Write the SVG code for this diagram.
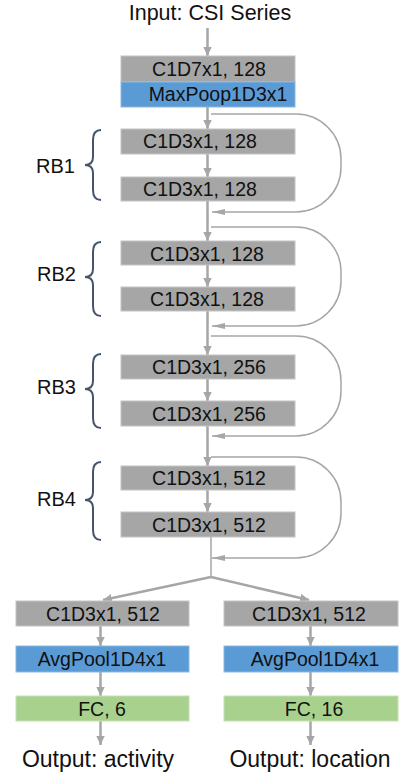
<svg xmlns="http://www.w3.org/2000/svg" width="411" height="779" viewBox="0 0 411 779">
<style>
text{font-family:"Liberation Sans",Arial,sans-serif;fill:#111;text-anchor:middle}
.t{font-size:19.5px}
.big{font-size:21.5px}
.out{font-size:23px}
.rb{font-size:20px;text-anchor:start}
.g{fill:#a6a6a6;stroke:#c4c4c4;stroke-width:1}
.b{fill:#5b9bd5;stroke:#8ab8e2;stroke-width:1}
.gr{fill:#a9d18e;stroke:#c5e0b3;stroke-width:1}
.m{stroke:#a6a6a6;stroke-width:2.5;fill:none}
.l{stroke:#a6a6a6;stroke-width:1.5;fill:none}
.br{stroke:#44546a;stroke-width:2;fill:none}
</style>
<defs>
<marker id="ah" markerUnits="userSpaceOnUse" markerWidth="10" markerHeight="10" refX="9" refY="5" orient="auto">
<path d="M0,0.8 L9,5 L0,9.2 Z" fill="#a6a6a6"/>
</marker>
<marker id="ah2" markerUnits="userSpaceOnUse" markerWidth="14" markerHeight="8" refX="13" refY="4" orient="auto">
<path d="M0,1 L13,4 L0,7 Z" fill="#a6a6a6"/>
</marker>
</defs>

<text class="big" x="210" y="20">Input: CSI Series</text>

<g id="connectors">
<line class="m" x1="207.5" y1="28" x2="207.5" y2="56" marker-end="url(#ah)"/>
<line class="m" x1="207.5" y1="107" x2="207.5" y2="129" marker-end="url(#ah)"/>
<line class="m" x1="207.5" y1="154" x2="207.5" y2="177" marker-end="url(#ah)"/>
<line class="m" x1="207.5" y1="201" x2="207.5" y2="241" marker-end="url(#ah)"/>
<line class="m" x1="207.5" y1="265" x2="207.5" y2="287" marker-end="url(#ah)"/>
<line class="m" x1="207.5" y1="311" x2="207.5" y2="355" marker-end="url(#ah)"/>
<line class="m" x1="207.5" y1="379" x2="207.5" y2="401" marker-end="url(#ah)"/>
<line class="m" x1="207.5" y1="426" x2="207.5" y2="466" marker-end="url(#ah)"/>
<line class="m" x1="207.5" y1="490" x2="207.5" y2="512" marker-end="url(#ah)"/>
<line class="l" x1="211" y1="537" x2="211" y2="577"/>
<line class="m" x1="211" y1="577" x2="103" y2="600" marker-end="url(#ah)"/>
<line class="m" x1="211" y1="577" x2="309" y2="600" marker-end="url(#ah)"/>
<line class="m" x1="100.5" y1="626" x2="100.5" y2="646" marker-end="url(#ah)"/>
<line class="m" x1="100.5" y1="672" x2="100.5" y2="696" marker-end="url(#ah)"/>
<line class="m" x1="100.5" y1="721" x2="100.5" y2="745" marker-end="url(#ah)"/>
<line class="m" x1="310.5" y1="626" x2="310.5" y2="646" marker-end="url(#ah)"/>
<line class="m" x1="310.5" y1="672" x2="310.5" y2="696" marker-end="url(#ah)"/>
<line class="m" x1="310.5" y1="721" x2="310.5" y2="745" marker-end="url(#ah)"/>
<path class="l" d="M211,114 H296 A45,45 0 0 1 341,159 V167 A45,45 0 0 1 296,212 H212" marker-end="url(#ah2)"/>
<path class="l" d="M211,227 H296 A45,45 0 0 1 341,272 V281 A45,45 0 0 1 296,326 H212" marker-end="url(#ah2)"/>
<path class="l" d="M211,336 H296 A45,45 0 0 1 341,381 V391 A45,45 0 0 1 296,436 H212" marker-end="url(#ah2)"/>
<path class="l" d="M211,457 H296 A45,45 0 0 1 341,502 V513 A45,45 0 0 1 296,558 H212" marker-end="url(#ah2)"/>
</g>

<g id="conv7">
<rect class="g" x="121" y="56" width="174" height="26"/>
<text class="t" x="209" y="76">C1D7x1, 128</text>
</g>
<g id="maxpool">
<rect class="b" x="121" y="82" width="174" height="25"/>
<text class="t" x="218" y="101">MaxPoop1D3x1</text>
</g>

<g id="rb1">
<rect class="g" x="121" y="129" width="174" height="25"/>
<text class="t" x="200" y="148">C1D3x1, 128</text>
<rect class="g" x="121" y="177" width="174" height="24"/>
<text class="t" x="200" y="196">C1D3x1, 128</text>
<path class="br" d="M101,130 Q93,130 93,140 V157 Q93,165 85,165 Q93,165 93,173 V190 Q93,200 101,200"/>
<text class="rb" x="36" y="173">RB1</text>
</g>

<g id="rb2">
<rect class="g" x="121" y="241" width="174" height="24"/>
<text class="t" x="207" y="261">C1D3x1, 128</text>
<rect class="g" x="121" y="287" width="174" height="24"/>
<text class="t" x="207" y="306">C1D3x1, 128</text>
<path class="br" d="M101,242 Q93,242 93,252 V269 Q93,277 85,277 Q93,277 93,285 V306 Q93,316 101,316"/>
<text class="rb" x="37" y="281">RB2</text>
</g>

<g id="rb3">
<rect class="g" x="121" y="355" width="174" height="24"/>
<text class="t" x="209" y="374">C1D3x1, 256</text>
<rect class="g" x="121" y="401" width="174" height="25"/>
<text class="t" x="209" y="421">C1D3x1, 256</text>
<path class="br" d="M101,354 Q93,354 93,364 V381 Q93,389 85,389 Q93,389 93,397 V418 Q93,428 101,428"/>
<text class="rb" x="37" y="394">RB3</text>
</g>

<g id="rb4">
<rect class="g" x="121" y="466" width="174" height="24"/>
<text class="t" x="209" y="485">C1D3x1, 512</text>
<rect class="g" x="121" y="512" width="174" height="25"/>
<text class="t" x="209" y="532">C1D3x1, 512</text>
<path class="br" d="M101,462 Q93,462 93,472 V492 Q93,500 85,500 Q93,500 93,508 V530 Q93,540 101,540"/>
<text class="rb" x="37" y="506">RB4</text>
</g>

<g id="left-branch">
<rect class="g" x="16" y="601" width="173" height="25"/>
<text class="t" x="103" y="621">C1D3x1, 512</text>
<rect class="b" x="16" y="646" width="173" height="26"/>
<text class="t" x="102" y="666">AvgPool1D4x1</text>
<rect class="gr" x="16" y="696" width="173" height="25"/>
<text class="t" x="102" y="716">FC, 6</text>
<text class="out" x="98" y="767">Output: activity</text>
</g>

<g id="right-branch">
<rect class="g" x="224" y="601" width="174" height="25"/>
<text class="t" x="309" y="621">C1D3x1, 512</text>
<rect class="b" x="224" y="646" width="174" height="26"/>
<text class="t" x="315" y="666">AvgPool1D4x1</text>
<rect class="gr" x="224" y="696" width="174" height="25"/>
<text class="t" x="314" y="716">FC, 16</text>
<text class="out" x="310" y="767">Output: location</text>
</g>
</svg>
